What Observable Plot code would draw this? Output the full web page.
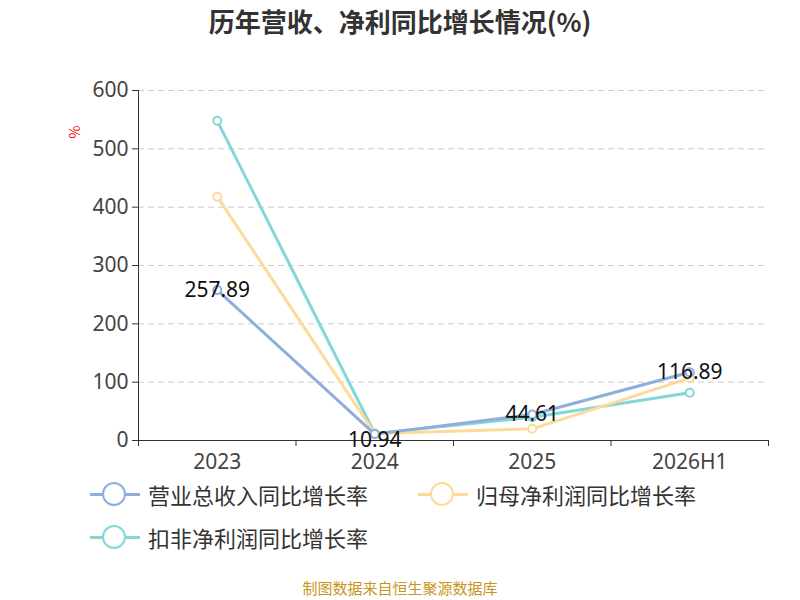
<!DOCTYPE html>
<html><head><meta charset="utf-8">
<script src="https://cdn.jsdelivr.net/npm/d3@7"></script>
<script src="https://cdn.jsdelivr.net/npm/@observablehq/plot@0.6"></script>
<style>
body{margin:0;font-family:"Noto Sans CJK SC","Noto Sans",sans-serif;}
#wrap{position:relative;width:800px;height:600px;background:#fff;overflow:hidden}
#title{position:absolute;top:2px;left:0;width:800px;text-align:center;font-size:26px;font-weight:bold;color:#333}
.leg{position:absolute;font-size:22px;color:#333;display:flex;align-items:center}
.ic{position:relative;width:50px;height:26px;margin-right:8px}
.ic .l{position:absolute;left:0;right:0;top:12px;height:3px}
.ic .c{position:absolute;left:12px;top:1px;width:20px;height:20px;border-radius:50%;border:2px solid;background:#fff}
#cap{position:absolute;top:577px;left:0;width:800px;text-align:center;font-size:15px;color:#c8961e}
#pct{position:absolute;left:68px;top:122px;color:red;font-size:14px;transform:rotate(-90deg)}
</style></head><body>
<div id="wrap">
<div id="title">历年营收、净利同比增长情况(%)</div>
<div id="chart" style="position:absolute;top:0;left:0"></div>
<div id="pct">%</div>
<div id="legend"></div>
<div id="cap">制图数据来自恒生聚源数据库</div>
</div>
<script>
const categories=["2023","2024","2025","2026H1"];
const seriesNames=["营业总收入同比增长率","归母净利润同比增长率","扣非净利润同比增长率"];
const revenue=[257.89,10.94,44.61,116.89];
const netProfit=[418,12,20,107];
const deducted=[548,12,40,82];
const colors=["#8eaedc","#fdd99a","#84d6d9"];
const yTicks=[0,100,200,300,400,500,600];

const data=[];
[revenue,netProfit,deducted].forEach((arr,s)=>arr.forEach((v,i)=>data.push({s:seriesNames[s],i,v})));
const rev=revenue.map((v,i)=>({i,v}));
const order=[2,1,0];
const font="Noto Sans, sans-serif";
const marks=[
  Plot.gridY(yTicks,{stroke:"#ccc",strokeDasharray:"6,4",strokeOpacity:1}),
  Plot.axisY(yTicks,{tickSize:6,fontSize:21,tickPadding:4,label:null,stroke:"#333",color:"#444"}),
  Plot.ruleX([-0.5],{stroke:"#333"}),
  Plot.ruleY([0],{stroke:"#333"}),
  Plot.axisX([0,1,2,3],{tickSize:0,tickPadding:14,fontSize:21,tickFormat:i=>categories[i],label:null,color:"#444"}),
  Plot.axisX([-0.5,0.5,1.5,2.5,3.5],{tickSize:6,tickFormat:()=>"",label:null,stroke:"#333"})
];
order.forEach(s=>{
  const d=data.filter(x=>x.s===seriesNames[s]);
  marks.push(Plot.line(d,{x:"i",y:"v",stroke:colors[s],strokeWidth:3}));
  marks.push(Plot.dot(d,{x:"i",y:"v",stroke:colors[s],fill:"#fff",r:4,strokeWidth:2}));
});
marks.push(Plot.text(rev,{x:"i",y:d=>d.i===1?d.v-11:d.v,text:d=>d.v.toFixed(2),fontSize:21,fill:"#111"}));
const p=Plot.plot({width:800,height:490,marginLeft:138,marginRight:32,marginTop:90,marginBottom:50,
  x:{type:"linear",domain:[-0.5,3.5]},y:{domain:[0,600]},style:{fontFamily:font,background:"transparent"},marks});
document.getElementById("chart").append(p);
const pos=[[90,478],[418,478],[90,521]];
seriesNames.forEach((n,s)=>{
  const el=document.createElement("div");el.className="leg";
  el.style.left=pos[s][0]+"px";el.style.top=pos[s][1]+"px";
  el.innerHTML=`<div class="ic"><div class="l" style="background:${colors[s]}"></div><div class="c" style="border-color:${colors[s]}"></div></div>${n}`;
  document.getElementById("legend").append(el);
});
</script>
</body></html>
